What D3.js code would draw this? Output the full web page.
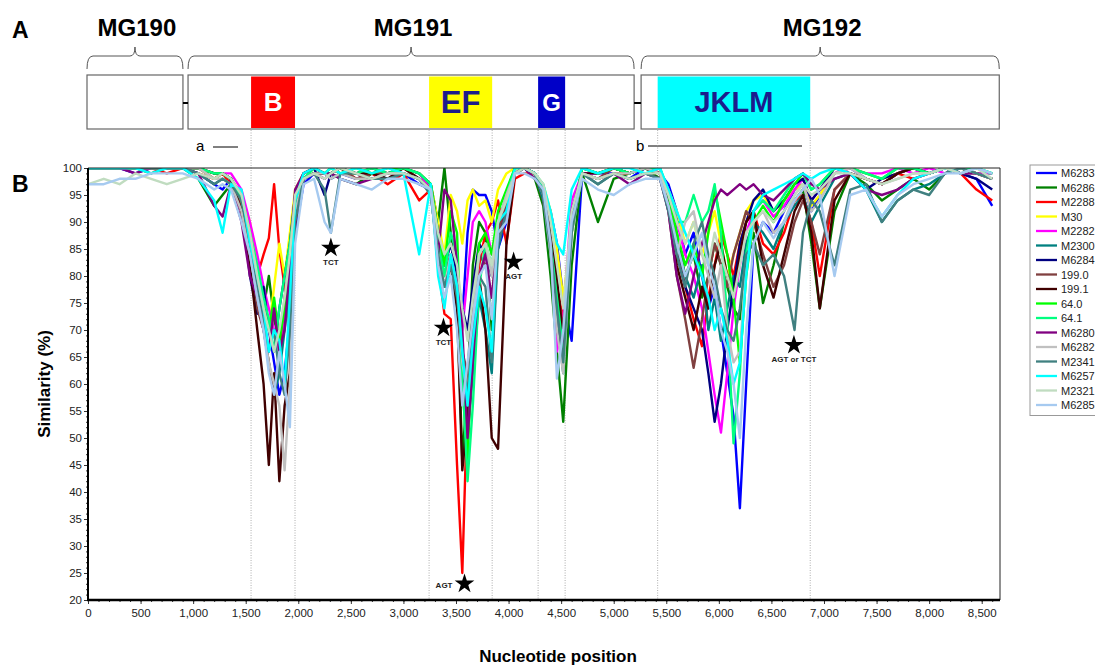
<!DOCTYPE html>
<html>
<head>
<meta charset="utf-8">
<script src="https://cdn.jsdelivr.net/npm/d3@7"></script>
<style>
  body { margin: 0; background: #fff; font-family: Arial, "Liberation Sans", sans-serif; }
</style>
</head>
<body>
<svg id="chart" width="1095" height="666"></svg>
<script>
// nucleotide positions shared by every series
const positions = [0,150,300,450,600,750,900,1050,1200,1280,
  1360,1460,1540,1610,1670,1720,1770,1820,1870,1920,
  1970,2050,2150,2250,2310,2400,2550,2700,2850,3000,
  3150,3260,3330,3390,3450,3510,3560,3610,3660,3720,
  3780,3840,3900,3980,4060,4150,4250,4330,4400,4460,
  4520,4600,4700,4850,5000,5150,5300,5440,5520,5600,
  5680,5760,5840,5900,5960,6020,6080,6140,6200,6260,
  6330,6420,6520,6620,6720,6800,6880,6960,7100,7250,
  7400,7550,7700,7850,8000,8150,8300,8450,8600];

const M6283 = [100,100,100,99,100,100,100,99,97,96,
  98,94,88,80,76,70,64,58,62,72,
  88,97,99,99,98,99,98,99,98,99,
  97,96,88,82,86,80,72,88,96,95,
  95,92,85,90,99,100,99,96,92,86,
  76,68,99,99,99,98,100,99,97,92,
  84,88,80,74,78,70,62,54,37,60,
  86,90,88,92,96,97,92,95,99,100,
  98,97,99,100,99,100,99,98,93];
const M6286 = [100,100,100,100,99,100,100,98,93,95,
  97,92,86,78,74,80,72,68,74,84,
  94,98,99,98,99,98,97,99,98,99,
  98,97,90,100,88,76,46,60,82,90,
  88,70,86,94,99,100,98,93,80,66,
  53,82,99,90,98,99,100,98,95,88,
  80,84,76,80,86,82,78,74,72,84,
  88,75,82,90,94,96,86,74,92,99,
  97,94,96,98,96,99,100,99,99];
const M2288 = [100,100,100,100,100,99,100,99,98,99,
  97,92,86,80,84,87,97,85,78,70,
  90,98,99,99,99,100,98,99,97,99,
  94,96,82,73,72,45,25,58,72,82,
  88,90,94,86,98,99,99,94,85,78,
  72,90,99,98,99,99,100,99,94,85,
  78,72,67,76,82,88,84,80,86,90,
  92,86,84,88,94,95,90,80,96,99,
  98,97,99,98,99,100,99,96,94];
const M30 = [100,100,100,100,100,100,100,100,98,99,
  98,95,90,82,75,70,78,86,80,88,
  96,99,100,99,100,99,99,100,99,100,
  99,97,90,84,95,92,86,94,96,93,
  94,90,96,99,100,100,99,97,92,85,
  76,88,100,99,100,99,100,99,96,92,
  86,90,84,88,92,86,80,84,88,92,
  94,95,92,94,96,97,93,95,99,100,
  99,98,99,100,99,100,100,99,98];
const M2282 = [100,100,100,100,100,100,100,100,99,99,
  99,96,90,84,78,74,70,66,72,82,
  94,98,99,98,99,100,99,98,99,100,
  99,96,86,80,84,78,70,80,90,92,
  90,84,90,92,99,100,99,95,86,66,
  72,94,99,99,100,99,100,99,96,90,
  84,80,74,66,58,51,62,74,82,88,
  92,94,91,93,96,98,94,96,99,100,
  99,99,100,99,100,99,100,99,99];
const M2300 = [100,100,100,100,100,100,100,99,97,98,
  97,93,86,76,70,64,58,62,70,78,
  92,98,99,99,98,99,99,98,98,99,
  98,95,84,78,80,74,60,50,62,76,
  70,62,85,92,99,100,99,94,84,72,
  62,88,99,97,99,98,99,98,93,86,
  80,76,82,70,76,68,74,80,78,86,
  90,88,85,90,93,95,90,93,98,99,
  96,90,94,96,97,99,100,99,98];
const M6284 = [100,100,100,100,100,100,100,100,99,99,
  98,94,80,73,78,70,66,74,80,86,
  95,99,100,95,99,100,99,100,99,100,
  99,97,88,82,86,80,74,70,78,86,
  84,80,88,94,99,100,99,95,85,76,
  66,90,100,99,100,99,100,99,94,84,
  78,74,70,62,53,60,70,78,86,90,
  94,96,92,94,97,98,94,96,100,99,
  96,98,99,100,99,100,99,98,96];
const s199_0 = [100,100,100,100,100,100,100,100,98,99,
  98,93,84,74,70,64,58,66,76,84,
  93,98,99,99,99,100,98,99,99,100,
  98,96,86,80,84,76,66,62,74,84,
  82,76,88,94,99,100,99,96,88,78,
  70,92,99,98,100,99,100,99,92,80,
  72,63,72,80,86,82,78,84,88,92,
  90,84,78,82,90,94,90,84,96,99,
  98,97,99,100,99,100,99,99,98];
const s199_1 = [100,100,100,100,100,100,100,100,99,99,
  98,92,82,70,60,45,62,42,56,62,
  90,98,99,99,99,100,99,99,98,100,
  98,96,84,78,82,74,44,54,70,80,
  70,50,48,86,99,100,99,96,88,80,
  68,90,99,99,100,99,100,99,93,82,
  76,70,78,74,82,86,80,76,84,90,
  92,82,76,84,92,95,88,74,94,99,
  98,97,99,100,99,100,100,99,98];
const s64_0 = [100,100,100,100,100,100,100,100,99,99,
  98,95,88,80,74,70,76,68,74,82,
  94,98,100,99,100,99,100,99,100,100,
  99,97,88,82,92,88,60,46,70,86,
  88,84,92,96,100,100,99,96,86,74,
  64,90,100,99,100,99,100,100,95,88,
  82,86,80,88,96,90,84,76,64,80,
  90,93,90,94,97,99,96,97,100,100,
  99,98,100,100,99,100,100,100,99];
const s64_1 = [100,100,100,100,100,100,100,100,99,99,
  98,94,88,82,76,72,66,74,80,86,
  94,98,100,99,99,100,99,100,99,100,
  99,97,86,80,88,84,62,42,56,78,
  86,82,90,95,100,100,99,96,86,76,
  66,90,100,99,100,99,100,100,96,90,
  90,95,90,92,97,88,72,49,62,84,
  92,94,92,95,98,99,96,97,100,100,
  99,98,100,100,99,100,100,100,99];
const M6280 = [100,100,100,99,100,100,100,99,93,91,
  97,90,80,76,70,66,74,66,70,82,
  96,99,100,99,99,98,97,98,99,99,
  98,96,84,96,94,82,70,50,64,80,
  84,76,86,92,99,100,98,96,86,70,
  64,92,99,98,99,97,99,98,92,80,
  73,80,86,90,94,96,95,96,97,96,
  97,95,94,96,98,99,97,96,98,99,
  96,95,96,98,99,100,99,99,98];
const M6282 = [100,100,100,100,100,100,100,100,98,98,
  97,92,84,76,70,64,60,56,44,60,
  92,98,99,99,98,99,98,98,99,99,
  98,95,84,78,84,78,64,58,72,84,
  86,80,90,95,99,100,99,95,84,70,
  62,88,99,98,99,99,100,99,93,84,
  90,92,84,80,76,82,70,64,66,82,
  90,92,88,90,95,97,92,94,99,100,
  98,97,98,99,99,100,100,99,98];
const M2341 = [100,100,100,100,100,100,100,99,97,98,
  97,94,86,78,72,66,70,62,58,70,
  90,98,99,96,88,99,99,98,98,99,
  98,95,84,78,82,76,66,58,70,80,
  78,64,86,92,99,100,99,95,85,74,
  64,88,99,97,99,98,99,98,92,84,
  78,86,90,84,80,74,70,68,74,84,
  86,82,84,80,70,88,94,92,82,96,
  97,90,94,96,95,99,100,99,98];
const M6257 = [100,100,100,100,99,100,100,98,94,88,
  97,96,86,80,74,66,70,68,60,76,
  94,99,100,99,100,99,100,99,100,99,
  84,97,80,74,84,78,66,56,68,78,
  74,66,90,92,100,100,99,97,92,86,
  84,96,100,99,100,100,99,100,96,92,
  88,84,80,76,70,74,68,60,64,80,
  92,95,96,97,98,99,98,99,100,99,
  96,91,95,98,99,100,99,100,99];
const M2321 = [97,98,97,99,98,97,98,99,98,99,
  98,95,88,80,74,70,66,70,76,84,
  95,98,99,98,99,100,99,98,99,99,
  98,96,88,84,86,82,74,68,76,84,
  86,82,90,94,99,100,99,97,90,82,
  74,92,99,98,99,98,99,99,95,90,
  86,90,84,82,88,84,80,76,82,88,
  90,92,90,92,95,97,95,96,99,99,
  98,97,98,99,99,100,99,100,98];
const M6285 = [97,97,98,98,99,99,99,98,96,97,
  96,90,84,76,70,62,58,66,60,52,
  86,97,98,90,88,98,97,96,98,98,
  97,96,82,76,80,70,56,64,72,80,
  82,72,88,90,99,99,98,96,86,61,
  70,90,98,96,95,97,98,98,93,86,
  80,84,88,82,78,70,66,60,50,70,
  86,90,87,90,94,96,98,95,80,95,
  96,91,95,97,98,99,99,100,99];

const seriesNames = ["M6283","M6286","M2288","M30","M2282","M2300","M6284","199.0","199.1",
  "64.0","64.1","M6280","M6282","M2341","M6257","M2321","M6285"];
const seriesColors = ["#0000ff","#008000","#ff0000","#ffff00","#ff00ff","#008080","#000080","#804040","#400000",
  "#00ff00","#00ff80","#800080","#c0c0c0","#408080","#00ffff","#c0dcc0","#a6caf0"];
const seriesValues = [M6283,M6286,M2288,M30,M2282,M2300,M6284,s199_0,s199_1,
  s64_0,s64_1,M6280,M6282,M2341,M6257,M2321,M6285];

// genome map (nucleotide coordinates)
const genes = [{name:"MG190", start:0, end:903}, {name:"MG191", start:961, end:5194}, {name:"MG192", start:5270, end:8667}];
const regions = [
  {name:"B", start:1551, end:1969, fill:"#ff0000", text:"#ffffff", size:26},
  {name:"EF", start:3244, end:3844, fill:"#ffff00", text:"#1c1c8c", size:31},
  {name:"G", start:4281, end:4538, fill:"#0000c8", text:"#ffffff", size:24},
  {name:"JKLM", start:5418, end:6869, fill:"#00ffff", text:"#1c1c8c", size:29}
];
const stars = [
  {pos:2310, sim:85.2, label:"TCT", dx:0, dy:14},
  {pos:3381, sim:70.4, label:"TCT", dx:0, dy:14},
  {pos:4048, sim:82.6, label:"AGT", dx:0, dy:14},
  {pos:3581, sim:23.0, label:"AGT", dx:-12, dy:1},
  {pos:6714, sim:67.2, label:"AGT or TCT", dx:0, dy:14}
];

const svg = d3.select("#chart");
const mLeft = 88, mRight = 1000, mTop = 168, mBottom = 600;
const x = d3.scaleLinear().domain([0, 8674]).range([mLeft, mRight]);
const y = d3.scaleLinear().domain([20, 100]).range([mBottom, mTop]);

// ---- panel A ----
svg.append("text").attr("x", 12).attr("y", 38).attr("font-size", 23).attr("font-weight", "bold").text("A");
svg.append("text").attr("x", 12).attr("y", 192).attr("font-size", 23).attr("font-weight", "bold").text("B");

const boxTop = 75, boxBottom = 129;
genes.forEach(g => {
  const x0 = x(g.start) - 1, x1 = x(g.end), mid = (x0 + x1) / 2;
  // curly brace
  const yb = 69, yl = 56, yp = 47;
  svg.append("path")
    .attr("d", `M${x0},${yb} Q${x0},${yl} ${x0 + 6},${yl} L${mid - 5},${yl} Q${mid},${yl} ${mid},${yp} Q${mid},${yl} ${mid + 5},${yl} L${x1 - 6},${yl} Q${x1},${yl} ${x1},${yb}`)
    .attr("fill", "none").attr("stroke", "#555").attr("stroke-width", 1);
  svg.append("text").attr("x", mid + 2).attr("y", 36).attr("text-anchor", "middle")
    .attr("font-size", 24).attr("font-weight", "bold").text(g.name);
  svg.append("rect").attr("x", x0).attr("y", boxTop).attr("width", x1 - x0).attr("height", boxBottom - boxTop)
    .attr("fill", "#fff").attr("stroke", "#666").attr("stroke-width", 1.2);
});
// connectors between ORFs
for (let i = 0; i < genes.length - 1; i++) {
  svg.append("line").attr("x1", x(genes[i].end)).attr("x2", x(genes[i + 1].start) - 1)
    .attr("y1", 103).attr("y2", 103).attr("stroke", "#000").attr("stroke-width", 2);
}
regions.forEach(r => {
  svg.append("rect").attr("x", x(r.start)).attr("y", boxTop + 1.5).attr("width", x(r.end) - x(r.start))
    .attr("height", boxBottom - boxTop - 2.5).attr("fill", r.fill);
  svg.append("text").attr("x", (x(r.start) + x(r.end)) / 2).attr("y", 102 + r.size * 0.36)
    .attr("text-anchor", "middle").attr("font-size", r.size).attr("font-weight", "bold")
    .attr("fill", r.text).text(r.name);
});
// amplicon markers
svg.append("text").attr("x", 196).attr("y", 151).attr("font-size", 15).text("a");
svg.append("line").attr("x1", 213).attr("x2", 238).attr("y1", 147).attr("y2", 147).attr("stroke", "#000");
svg.append("text").attr("x", 636).attr("y", 151).attr("font-size", 15).text("b");
svg.append("line").attr("x1", 648).attr("x2", 802).attr("y1", 146).attr("y2", 146).attr("stroke", "#000");

// dotted region boundaries
const bounds = regions.flatMap(r => [r.start, r.end]);
svg.append("g").selectAll("line").data(bounds).join("line")
  .attr("x1", d => x(d)).attr("x2", d => x(d)).attr("y1", boxBottom + 1).attr("y2", mBottom)
  .attr("stroke", "#999").attr("stroke-width", 0.8).attr("stroke-dasharray", "1,1.5");

// ---- panel B ----
svg.append("defs").append("clipPath").attr("id", "clip")
  .append("rect").attr("x", mLeft).attr("y", mTop).attr("width", mRight - mLeft).attr("height", mBottom - mTop);

const line = d3.line().x((d, i) => x(positions[i])).y(d => y(d));
svg.append("g").attr("clip-path", "url(#clip)")
  .selectAll("path").data(seriesValues).join("path")
  .attr("d", line).attr("fill", "none")
  .attr("stroke", (d, i) => seriesColors[i]).attr("stroke-width", 2.4)
  .attr("stroke-linejoin", "round");

// axes
svg.append("g").attr("transform", `translate(0,${mBottom})`)
  .call(d3.axisBottom(x).tickValues(d3.range(0, 8501, 500)).tickFormat(d3.format(",")).tickSize(4).tickPadding(5));
svg.append("g").attr("transform", `translate(0,${mBottom})`)
  .call(d3.axisBottom(x).tickValues(d3.range(0, 8601, 100)).tickFormat("").tickSize(2));
svg.append("g").attr("transform", `translate(${mLeft},0)`)
  .call(d3.axisLeft(y).tickValues(d3.range(20, 101, 5)).tickSize(4).tickPadding(2));
svg.append("g").attr("transform", `translate(${mLeft},0)`)
  .call(d3.axisLeft(y).tickValues(d3.range(20, 101, 1)).tickFormat("").tickSize(2));
svg.selectAll(".domain").remove();
svg.selectAll(".tick line").attr("stroke", "#333");
svg.selectAll(".tick text").attr("font-size", 11.5).attr("fill", "#222")
  .attr("font-family", "Arial, 'Liberation Sans', sans-serif");

// frame
svg.append("line").attr("x1", mLeft).attr("x2", mRight).attr("y1", mTop).attr("y2", mTop).attr("stroke", "#222");
svg.append("line").attr("x1", mRight).attr("x2", mRight).attr("y1", mTop).attr("y2", mBottom).attr("stroke", "#222");
svg.append("line").attr("x1", mLeft).attr("x2", mLeft).attr("y1", mTop).attr("y2", mBottom + 1).attr("stroke", "#000").attr("stroke-width", 2);
svg.append("line").attr("x1", mLeft - 1).attr("x2", mRight).attr("y1", mBottom).attr("y2", mBottom).attr("stroke", "#000").attr("stroke-width", 2.5);

// stars
stars.forEach(s => {
  svg.append("path").attr("d", d3.symbol().type(d3.symbolStar).size(120)())
    .attr("transform", `translate(${x(s.pos)},${y(s.sim)})`).attr("fill", "#000");
  svg.append("text").attr("x", x(s.pos) + s.dx).attr("y", y(s.sim) + s.dy + 3)
    .attr("text-anchor", s.dx < 0 ? "end" : "middle").attr("font-size", 8).attr("font-weight", "bold")
    .attr("fill", "#222").text(s.label);
});

// axis titles
svg.append("text").attr("x", 558).attr("y", 662).attr("text-anchor", "middle")
  .attr("font-size", 17).attr("font-weight", "bold").text("Nucleotide position");
svg.append("text").attr("transform", `translate(50,${(mTop + mBottom) / 2}) rotate(-90)`)
  .attr("text-anchor", "middle").attr("font-size", 17).attr("font-weight", "bold").text("Similarity (%)");

// legend
const lgX = 1030, lgY = 165, lgStep = 14.5;
svg.append("rect").attr("x", lgX).attr("y", lgY).attr("width", 80).attr("height", lgStep * 17 + 4)
  .attr("fill", "#fff").attr("stroke", "#999");
const lg = svg.append("g").selectAll("g").data(seriesNames).join("g")
  .attr("transform", (d, i) => `translate(${lgX},${lgY + 8 + i * lgStep})`);
lg.append("line").attr("x1", 6).attr("x2", 27).attr("stroke", (d, i) => seriesColors[i]).attr("stroke-width", 2.3);
lg.append("text").attr("x", 31).attr("y", 4).attr("font-size", 11).attr("fill", "#222").text(d => d);
</script>
</body>
</html>
